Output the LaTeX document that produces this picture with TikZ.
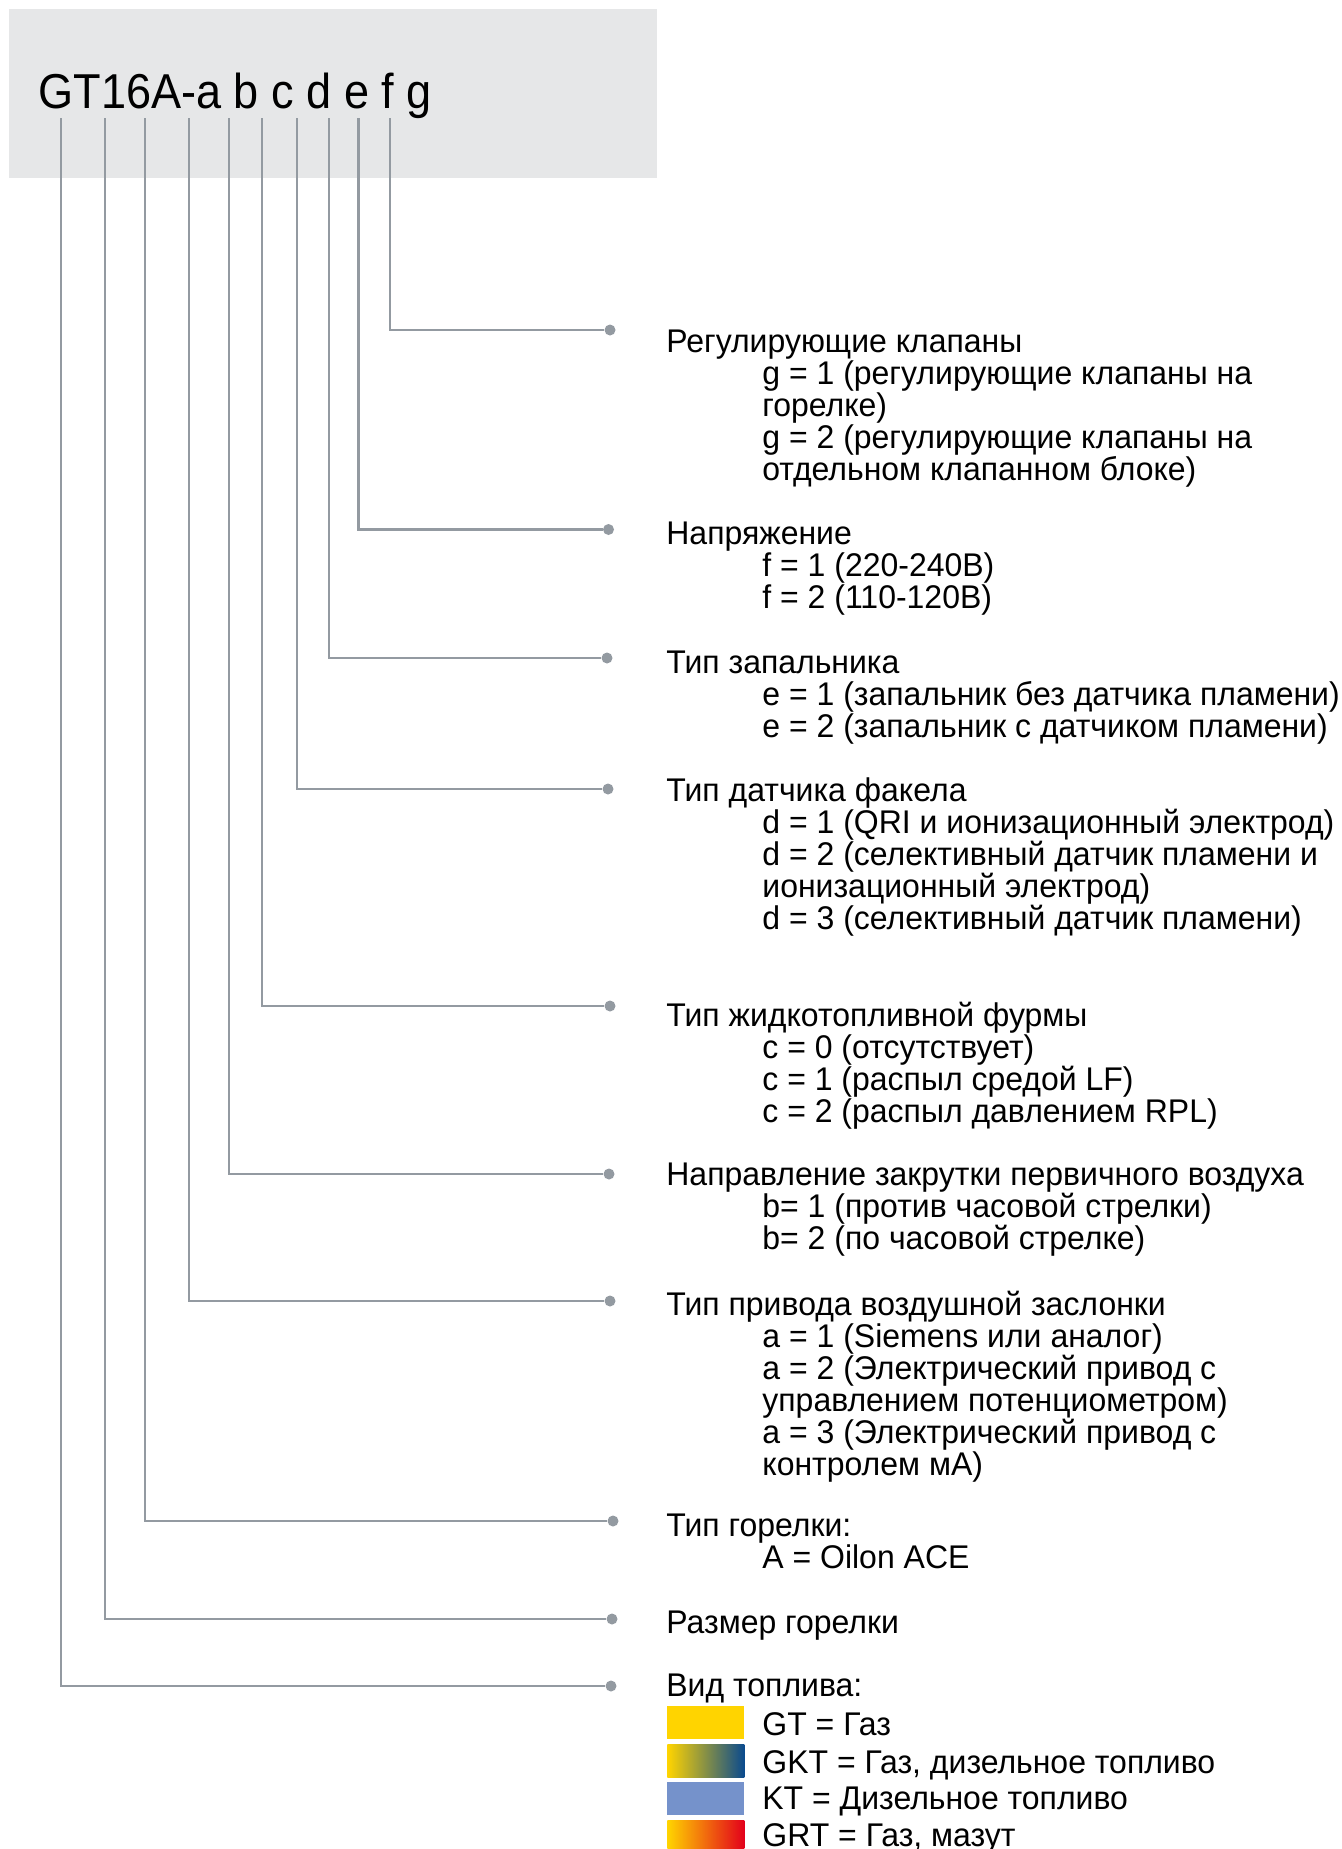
\documentclass[tikz,border=0pt]{standalone}
\usepackage{fontspec}
\setmainfont{Liberation Sans}[FakeStretch=0.975]
\newfontfamily\codefont{Liberation Sans}[FakeStretch=0.92]
\usetikzlibrary{positioning}

\definecolor{boxgray}{HTML}{E6E7E8}
\definecolor{linegray}{HTML}{939AA1}
\definecolor{gasyellow}{HTML}{FFD400}
\definecolor{oilblue}{HTML}{0A4A8E}
\definecolor{midgray}{HTML}{9C9A8C}
\definecolor{dieselblue}{HTML}{7592CB}
\definecolor{mazutorange}{HTML}{EE7D1A}
\definecolor{mazutred}{HTML}{E3001B}

\tikzset{
  lead/.style={draw=linegray, line width=1.35pt},
  dot/.style={circle, fill=linegray, inner sep=0pt, minimum size=5.5pt},
  desc/.style={anchor=north west, inner sep=0pt, align=left, font=\fontsize{16.4}{16}\selectfont},
  swatch/.style={anchor=north west, inner sep=0pt, minimum width=38.5pt, minimum height=16.5pt},
  legend/.style={anchor=base west, inner sep=0pt, font=\fontsize{16.4}{16}\selectfont}
}
\newcommand{\ind}{\hspace*{48pt}}

\begin{document}
\begin{tikzpicture}[x=0.5pt, y=-0.5pt]
    \useasboundingbox (0,0) rectangle (1342,1849);

    % Type code header
    \fill[boxgray] (9,9) rectangle (657,178);
    \node[anchor=base west, inner sep=0pt, font=\codefont\fontsize{24.5}{24.5}\selectfont] (code) at (38,108) {GT16A-a b c d e f g};

    % Upper ends of the leads
    \coordinate (tGT) at (61,118);
    \coordinate (tSize) at (105,118);
    \coordinate (tType) at (145,118);
    \coordinate (tA) at (189,118);
    \coordinate (tB) at (229,118);
    \coordinate (tC) at (262,118);
    \coordinate (tD) at (297,118);
    \coordinate (tE) at (329,118);
    \coordinate (tF) at (358.5,118);
    \coordinate (tG) at (390,118);

    % Dots
    \node[dot] (dG) at (610,330) {};
    \node[dot] (dF) at (608.5,529.5) {};
    \node[dot] (dE) at (607,658) {};
    \node[dot] (dD) at (608,789) {};
    \node[dot] (dC) at (610,1006) {};
    \node[dot] (dB) at (609,1174) {};
    \node[dot] (dA) at (610,1301) {};
    \node[dot] (dType) at (613,1521) {};
    \node[dot] (dSize) at (612,1619) {};
    \node[dot] (dGT) at (611,1686) {};

    % Leads
    \draw[lead] (tG) |- (dG);
    \draw[lead] (tF) |- (dF);
    \draw[lead] (tE) |- (dE);
    \draw[lead] (tD) |- (dD);
    \draw[lead] (tC) |- (dC);
    \draw[lead] (tB) |- (dB);
    \draw[lead] (tA) |- (dA);
    \draw[lead] (tType) |- (dType);
    \draw[lead] (tSize) |- (dSize);
    \draw[lead] (tGT) |- (dGT);

    % Descriptions
    \node[desc] (valves) at (666,329.5) {Регулирующие клапаны\\\ind g = 1 (регулирующие клапаны на\\\ind горелке)\\\ind g = 2 (регулирующие клапаны на\\\ind отдельном клапанном блоке)};
    \node[desc] (voltage) at (666,521.5) {Напряжение\\\ind f = 1 (220-240В)\\\ind f = 2 (110-120В)};
    \node[desc] (igniter) at (666,650.5) {Тип запальника\\\ind e = 1 (запальник без датчика пламени)\\\ind e = 2 (запальник с датчиком пламени)};
    \node[desc] (sensor) at (666,777.5) {Тип датчика факела\\\ind d = 1 (QRI и ионизационный электрод)\\\ind d = 2 (селективный датчик пламени и\\\ind ионизационный электрод)\\\ind d = 3 (селективный датчик пламени)};
    \node[desc] (lance) at (666,1001.5) {Тип жидкотопливной фурмы\\\ind c = 0 (отсутствует)\\\ind c = 1 (распыл средой LF)\\\ind c = 2 (распыл давлением RPL)};
    \node[desc] (swirl) at (666,1162.5) {Направление закрутки первичного воздуха\\\ind b= 1 (против часовой стрелки)\\\ind b= 2 (по часовой стрелке)};
    \node[desc] (damper) at (666,1290.5) {Тип привода воздушной заслонки\\\ind a = 1 (Siemens или аналог)\\\ind a = 2 (Электрический привод с\\\ind управлением потенциометром)\\\ind a = 3 (Электрический привод с\\\ind контролем мА)};
    \node[desc] (burner) at (666,1513.5) {Тип горелки:\\\ind A = Oilon ACE};
    \node[desc] (size) at (666,1610.5) {Размер горелки};
    \node[desc] (fuel) at (666,1673.5) {Вид топлива:};

    % Fuel legend
    \node[swatch, fill=gasyellow] (swGT) at (667,1706) {};
    \node[swatch, left color=gasyellow, middle color=midgray, right color=oilblue] (swGKT) at (667,1744) {};
    \node[swatch, fill=dieselblue] (swKT) at (667,1782) {};
    \node[swatch, left color=gasyellow, middle color=mazutorange, right color=mazutred] (swGRT) at (667,1820) {};
    \node[legend] (lgGT) at (762,1735) {GT = Газ};
    \node[legend] (lgGKT) at (762,1773) {GKT = Газ, дизельное топливо};
    \node[legend] (lgKT) at (762,1809) {KT = Дизельное топливо};
    \node[legend] (lgGRT) at (762,1846) {GRT = Газ, мазут};

\end{tikzpicture}
\end{document}
